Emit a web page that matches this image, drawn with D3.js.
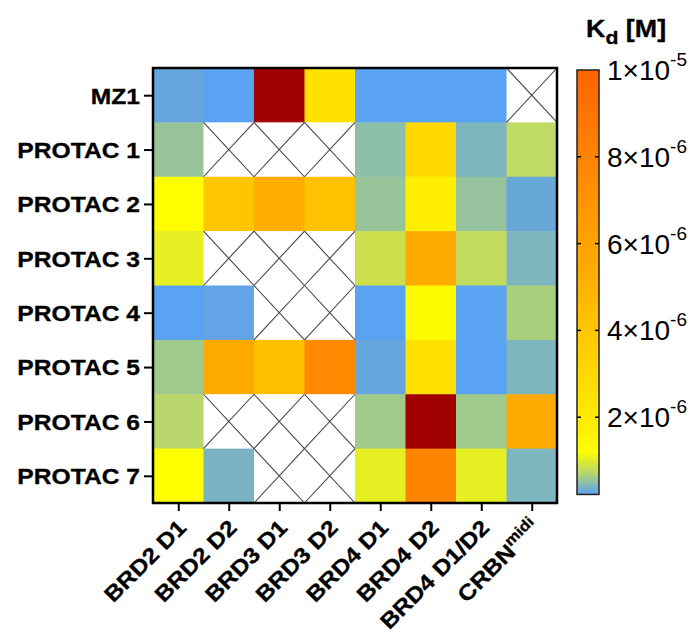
<!DOCTYPE html>
<html>
<head>
<meta charset="utf-8">
<script src="https://cdn.jsdelivr.net/npm/d3@7"></script>
<style>
  html, body { margin: 0; padding: 0; background: #fff; }
  svg { display: block; font-family: "Liberation Sans", Arial, sans-serif; }
</style>
</head>
<body>
<svg id="chart" width="692" height="635"></svg>
<script>
// Binding partners (columns) and compounds (rows)
const targets = ["BRD2 D1", "BRD2 D2", "BRD3 D1", "BRD3 D2", "BRD4 D1", "BRD4 D2", "BRD4 D1/D2", "CRBN"];
const targetSup = ["", "", "", "", "", "", "", "midi"];
const compounds = ["MZ1", "PROTAC 1", "PROTAC 2", "PROTAC 3", "PROTAC 4", "PROTAC 5", "PROTAC 6", "PROTAC 7"];

// Kd values in µM, one array per compound; null = not measured
const kdMZ1     = [0.28, 0.15, 15,   2.5,  0.15, 0.15, 0.15, null];
const kdPROTAC1 = [0.55, null, null, null, 0.50, 3.0,  0.42, 0.75];
const kdPROTAC2 = [1.2,  4.0,  5.3,  4.2,  0.55, 1.8,  0.54, 0.30];
const kdPROTAC3 = [1.05, null, null, null, 0.85, 5.5,  0.78, 0.42];
const kdPROTAC4 = [0.15, 0.25, null, null, 0.15, 1.3,  0.15, 0.65];
const kdPROTAC5 = [0.60, 5.5,  4.3,  7.7,  0.28, 2.5,  0.15, 0.42];
const kdPROTAC6 = [0.72, null, null, null, 0.60, 15,   0.60, 5.5];
const kdPROTAC7 = [1.2,  0.40, null, null, 1.05, 8.0,  1.05, 0.42];
const kdRows = [kdMZ1, kdPROTAC1, kdPROTAC2, kdPROTAC3, kdPROTAC4, kdPROTAC5, kdPROTAC6, kdPROTAC7];

// Colour bar range (µM) and tick values (µM)
const scaleMin = 0.22;
const scaleMax = 10;
const barTicks = [2, 4, 6, 8, 10];

// Colour map stops (µM) and colours
const stopVals = [0.2, 0.25, 0.3, 0.42, 0.55, 0.65, 0.75, 0.85, 1.05, 1.2, 1.8, 2.5, 3, 4, 5.5, 8, 10];
const stopCols = ["#5aa2f2", "#62a4e6", "#68a8d8", "#7eb6c0", "#98c49a", "#a8d07c", "#c0da66", "#cce04c",
                  "#e6f022", "#ffff00", "#ffee00", "#ffe200", "#ffd800", "#ffc600", "#ffaa00", "#ff8400", "#ff6400"];
const aboveColor = "#a00000";

const svg = d3.select("#chart");
const font = "'Liberation Sans', Arial, sans-serif";
const labelSize = "22px";
const widen = 1.12;   // wide bold lettering for axis labels

const grid = { left: 153, right: 557, top: 68, bottom: 503 };

const x = d3.scaleBand().domain(d3.range(targets.length)).range([grid.left, grid.right]);
const y = d3.scaleBand().domain(d3.range(compounds.length)).range([grid.top, grid.bottom]);

const colour = d3.scaleLinear().domain(stopVals).range(stopCols).clamp(true);
const fill = v => v > scaleMax ? aboveColor : colour(v);

const boldLabel = sel => sel
  .attr("fill", "#000")
  .attr("stroke", "#000").attr("stroke-width", 0.3)
  .style("font-family", font).style("font-weight", "bold").style("font-size", labelSize);

// Cells
const cells = [];
kdRows.forEach((row, r) => row.forEach((v, c) => cells.push({ r, c, v })));

const cellG = svg.append("g");
cellG.selectAll("rect.cell")
  .data(cells)
  .join("rect")
  .attr("class", "cell")
  .attr("x", d => x(d.c))
  .attr("y", d => y(d.r))
  .attr("width", x.bandwidth() + 0.5)
  .attr("height", y.bandwidth() + 0.5)
  .attr("fill", d => d.v == null ? "#fff" : fill(d.v));

// Crosses for missing measurements
const missing = cells.filter(d => d.v == null);
const crossG = cellG.append("g").attr("stroke", "#444").attr("stroke-width", 1.1);
missing.forEach(d => {
  const x0 = x(d.c), x1 = x0 + x.bandwidth(), y0 = y(d.r), y1 = y0 + y.bandwidth();
  crossG.append("line").attr("x1", x0).attr("y1", y0).attr("x2", x1).attr("y2", y1);
  crossG.append("line").attr("x1", x0).attr("y1", y1).attr("x2", x1).attr("y2", y0);
});

// Frame
svg.append("rect")
  .attr("x", grid.left).attr("y", grid.top)
  .attr("width", grid.right - grid.left).attr("height", grid.bottom - grid.top)
  .attr("fill", "none").attr("stroke", "#000").attr("stroke-width", 2.5);

// Left axis (compound names)
const yAxis = d3.axisLeft(d3.scalePoint().domain(compounds).range([y(0) + y.bandwidth() / 2, y(7) + y.bandwidth() / 2]))
  .tickSize(9).tickFormat("");
const yG = svg.append("g").attr("transform", `translate(${grid.left},0)`).call(yAxis);
yG.select(".domain").remove();
yG.selectAll(".tick line").attr("stroke", "#000").attr("stroke-width", 2);
yG.selectAll(".tick").each(function (name) {
  d3.select(this).append("text")
    .attr("transform", `translate(-13,0) scale(${widen},1)`)
    .attr("text-anchor", "end")
    .attr("dy", "0.36em")
    .call(boldLabel)
    .text(name);
});

// Bottom axis (targets)
const xAxis = d3.axisBottom(d3.scalePoint().domain(d3.range(targets.length)).range([x(0) + x.bandwidth() / 2, x(7) + x.bandwidth() / 2]))
  .tickSize(8).tickFormat("");
const xG = svg.append("g").attr("transform", `translate(0,${grid.bottom})`).call(xAxis);
xG.select(".domain").remove();
xG.selectAll(".tick line").attr("stroke", "#000").attr("stroke-width", 2);
xG.selectAll(".tick").each(function (i) {
  const t = d3.select(this).append("text")
    .attr("transform", `translate(9,26) rotate(-45) scale(${widen},1)`)
    .attr("text-anchor", "end")
    .call(boldLabel);
  t.append("tspan").text(targets[i]);
  if (targetSup[i]) {
    t.append("tspan").attr("dy", -9).style("font-size", "15px").text(targetSup[i]);
  }
});

// Colour bar
const cb = { x: 577, w: 22 };
const cbScale = d3.scaleLinear().domain([0, scaleMax]).range([504, 70]);

const defs = svg.append("defs");
const grad = defs.append("linearGradient").attr("id", "kdGrad")
  .attr("x1", 0).attr("y1", 1).attr("x2", 0).attr("y2", 0);
const nStops = 60;
d3.range(nStops + 1).forEach(i => {
  const v = scaleMin + (scaleMax - scaleMin) * i / nStops;
  grad.append("stop").attr("offset", i / nStops).attr("stop-color", colour(v));
});

svg.append("rect")
  .attr("x", cb.x).attr("y", cbScale(scaleMax))
  .attr("width", cb.w).attr("height", cbScale(scaleMin) - cbScale(scaleMax))
  .attr("fill", "url(#kdGrad)")
  .attr("stroke", "#222").attr("stroke-width", 1.5);

// Inner tick marks on both edges of the bar
const tickG = svg.append("g").attr("stroke", "#000").attr("stroke-width", 1.5);
barTicks.filter(v => v < scaleMax).forEach(v => {
  tickG.append("line").attr("x1", cb.x).attr("x2", cb.x + 4).attr("y1", cbScale(v)).attr("y2", cbScale(v));
  tickG.append("line").attr("x1", cb.x + cb.w - 4).attr("x2", cb.x + cb.w).attr("y1", cbScale(v)).attr("y2", cbScale(v));
});

// Tick labels in a×10^b form (values converted from µM to M)
barTicks.forEach(v => {
  const m = v * 1e-6;
  const exp = Math.floor(Math.log10(m) + 1e-9);
  const mant = Math.round(m / Math.pow(10, exp));
  const t = svg.append("text")
    .attr("x", cb.x + cb.w + 8).attr("y", cbScale(v))
    .attr("dy", "0.36em")
    .attr("fill", "#000")
    .style("font-family", font).style("font-size", "28px");
  t.append("tspan").text(`${mant}×10`);
  t.append("tspan").attr("dy", -14).style("font-size", "19px").text(`-${-exp}`);
});

// Colour bar title: Kd [M]
const title = svg.append("text")
  .attr("transform", `translate(586,37) scale(${widen},1)`)
  .attr("fill", "#000")
  .attr("stroke", "#000").attr("stroke-width", 0.3)
  .style("font-family", font).style("font-weight", "bold").style("font-size", "24px");
title.append("tspan").text("K");
title.append("tspan").attr("dy", 7).style("font-size", "19px").text("d");
title.append("tspan").attr("dy", -7).text(" [M]");
</script>
</body>
</html>
